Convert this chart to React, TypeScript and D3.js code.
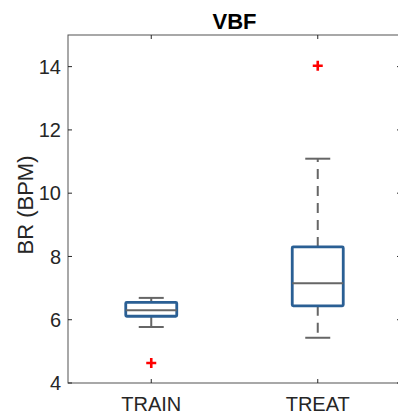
import * as d3 from "d3";

const categories = ["TRAIN", "TREAT"];
const whiskerLow = [5.77, 5.43];
const q1 = [6.11, 6.44];
const median = [6.3, 7.15];
const q3 = [6.55, 8.3];
const whiskerHigh = [6.69, 11.09];
const outliers = [[4.63], [14.03]];
const yTicks = [4, 6, 8, 10, 12, 14];

export default function App() {
  const width = 398;
  const height = 417;
  const margin = { top: 35, left: 68, bottomY: 383, right: 401 };

  const x = d3
    .scaleLinear()
    .domain([0.5, categories.length + 0.5])
    .range([margin.left, margin.right]);
  const y = d3.scaleLinear().domain([4, 15]).range([margin.bottomY, margin.top]);

  const boxHalf = 25.5;
  const capHalf = 12.5;
  const axisColor = "#262626";
  const font = "'Liberation Sans', Arial, sans-serif";

  return (
    <svg
      width={width}
      height={height}
      style={{ position: "absolute", left: 0, top: 0, background: "#fff" }}
    >
      {/* title */}
      <text
        x={(margin.left + margin.right) / 2}
        y={29}
        textAnchor="middle"
        fontFamily={font}
        fontWeight="bold"
        fontSize={22}
        fill="#000"
      >
        VBF
      </text>

      {/* y label */}
      <text
        transform={`translate(33, 205) rotate(-90)`}
        textAnchor="middle"
        fontFamily={font}
        fontSize={22}
        fill={axisColor}
      >
        BR (BPM)
      </text>

      {/* axes box */}
      <rect
        x={margin.left}
        y={margin.top}
        width={margin.right - margin.left}
        height={margin.bottomY - margin.top}
        fill="none"
        stroke={axisColor}
        strokeOpacity={0.8}
        strokeWidth={1}
      />

      {/* y ticks */}
      {yTicks.map((t) => (
        <g key={t}>
          <line x1={margin.left} x2={margin.left + 4} y1={y(t)} y2={y(t)} stroke={axisColor} />
          <line x1={margin.right - 4} x2={margin.right} y1={y(t)} y2={y(t)} stroke={axisColor} />
          <text
            x={margin.left - 7}
            y={y(t)}
            dy="0.36em"
            textAnchor="end"
            fontFamily={font}
            fontSize={20}
            fill={axisColor}
          >
            {t}
          </text>
        </g>
      ))}

      {/* x ticks */}
      {categories.map((c, i) => (
        <g key={c}>
          <line x1={x(i + 1)} x2={x(i + 1)} y1={margin.bottomY} y2={margin.bottomY - 4} stroke={axisColor} />
          <line x1={x(i + 1)} x2={x(i + 1)} y1={margin.top} y2={margin.top + 4} stroke={axisColor} />
          <text
            x={x(i + 1)}
            y={411}
            textAnchor="middle"
            fontFamily={font}
            fontSize={20}
            fill={axisColor}
          >
            {c}
          </text>
        </g>
      ))}

      {/* boxes */}
      {categories.map((c, i) => {
        const cx = x(i + 1);
        return (
          <g key={c}>
            <line
              x1={cx}
              x2={cx}
              y1={y(q3[i])}
              y2={y(whiskerHigh[i])}
              stroke="#666"
              strokeWidth={2}
              strokeDasharray="10,7"
            />
            <line
              x1={cx}
              x2={cx}
              y1={y(q1[i])}
              y2={y(whiskerLow[i])}
              stroke="#666"
              strokeWidth={2}
              strokeDasharray="10,7"
            />
            <line x1={cx - capHalf} x2={cx + capHalf} y1={y(whiskerHigh[i])} y2={y(whiskerHigh[i])} stroke="#666" strokeWidth={2} />
            <line x1={cx - capHalf} x2={cx + capHalf} y1={y(whiskerLow[i])} y2={y(whiskerLow[i])} stroke="#666" strokeWidth={2} />
            <rect
              x={cx - boxHalf}
              y={y(q3[i])}
              width={boxHalf * 2}
              height={y(q1[i]) - y(q3[i])}
              fill="#fff"
              stroke="#2a5f94"
              strokeWidth={2.8}
              rx={1}
            />
            <line x1={cx - boxHalf} x2={cx + boxHalf} y1={y(median[i])} y2={y(median[i])} stroke="#666" strokeWidth={2} />
            {outliers[i].map((o, j) => (
              <path
                key={j}
                d={`M${cx - 5},${y(o)}h10M${cx},${y(o) - 5}v10`}
                stroke="#ff0000"
                strokeWidth={2.6}
              />
            ))}
          </g>
        );
      })}
    </svg>
  );
}
